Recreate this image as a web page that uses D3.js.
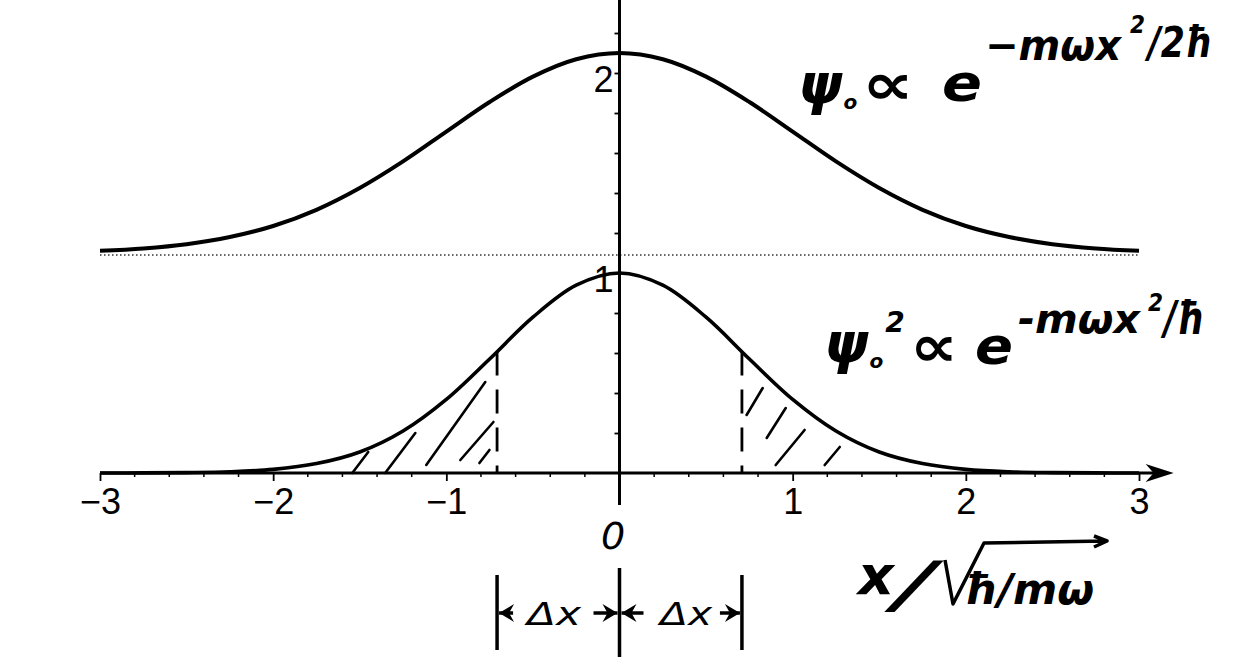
<!DOCTYPE html>
<html>
<head>
<meta charset="utf-8">
<script src="https://cdn.jsdelivr.net/npm/d3@7/dist/d3.min.js"></script>
<style>
  html, body { margin: 0; padding: 0; background: #fff; }
  svg { display: block; }
  .hand { font-family: "DejaVu Sans", sans-serif; font-style: italic; fill: #000; }
  .tick text { font-family: "Liberation Sans", Arial, sans-serif; }
</style>
</head>
<body>
<svg id="chart" width="1248" height="657"></svg>
<script>
// ---- data ----
const xs        = [-3, -2.75, -2.5, -2.25, -2, -1.75, -1.5, -1.25, -1, -0.75, -0.5, -0.25, 0,
                   0.25, 0.5, 0.75, 1, 1.25, 1.5, 1.75, 2, 2.25, 2.5, 2.75, 3];
// upper curve: psi_0 (offset plot), baseline ~1.1, peak ~2.1
const psiVals   = [1.111, 1.123, 1.144, 1.180, 1.235, 1.316, 1.425, 1.558, 1.707, 1.855, 1.982, 2.069, 2.100,
                   2.069, 1.982, 1.855, 1.707, 1.558, 1.425, 1.316, 1.235, 1.180, 1.144, 1.123, 1.111];
// lower curve: psi_0^2, peak 1
const psi2Vals  = [0.0001, 0.0005, 0.002, 0.006, 0.018, 0.047, 0.105, 0.210, 0.368, 0.570, 0.779, 0.939, 1.000,
                   0.939, 0.779, 0.570, 0.368, 0.210, 0.105, 0.047, 0.018, 0.006, 0.002, 0.0005, 0.0001];
const baselineUpper = 1.09;
const xTickValues = [-3, -2, -1, 1, 2, 3];
const xTickLabels = ["\u22123", "\u22122", "\u22121", "1", "2", "3"];
const yTickValues = [0.2, 0.4, 0.6, 0.8, 1.0, 1.2, 1.4, 1.6, 1.8, 2.0, 2.2];
const yTickLabelled = [1, 2];
const deltaX = [-0.707, 0.707];
const deltaXHeight = 0.607;
// hand-drawn hatch strokes [x0, y0, x1, y1] in data units
const hatchLeft  = [[-1.543, 0.0, -1.451, 0.105], [-1.353, 0.0, -1.179, 0.20],
                    [-1.116, 0.04, -0.775, 0.455], [-0.919, 0.065, -0.728, 0.255],
                    [-0.809, 0.05, -0.751, 0.115]];
const hatchRight = [[0.734, 0.29, 0.827, 0.425], [0.850, 0.175, 0.960, 0.325],
                    [0.902, 0.04, 1.069, 0.215], [1.185, 0.04, 1.272, 0.13]];

// ---- scales ----
const svg = d3.select("#chart");
const x = d3.scaleLinear().domain([-3, 3]).range([100, 1139]);
const y = d3.scaleLinear().domain([0, 1]).range([473, 273]);

// dotted baseline of the upper curve
svg.append("line")
  .attr("x1", x(-3)).attr("x2", x(3))
  .attr("y1", y(baselineUpper)).attr("y2", y(baselineUpper))
  .attr("stroke", "#333").attr("stroke-width", 1.5).attr("stroke-dasharray", "1.5,2.5");

// y axis (vertical line through x = 0)
svg.append("line").attr("x1", x(0)).attr("x2", x(0)).attr("y1", 0).attr("y2", 505)
  .attr("stroke", "#000").attr("stroke-width", 3);
const yAxis = d3.axisLeft(y).tickValues(yTickValues).tickSize(5)
  .tickFormat(d => yTickLabelled.some(v => Math.abs(v - d) < 1e-9) ? d3.format("d")(d) : "");
const gy = svg.append("g").attr("transform", `translate(${x(0)},0)`).call(yAxis);
gy.select(".domain").remove();
gy.selectAll(".tick line").attr("stroke", "#000").attr("stroke-width", 1.8);
gy.selectAll(".tick text").style("font-size", "36px").attr("fill", "#000").attr("x", -6).attr("dy", "0.5em");

// x axis
const xAxis = d3.axisBottom(x).tickValues(xTickValues).tickSize(8)
  .tickFormat((d, i) => xTickLabels[i]);
const gx = svg.append("g").attr("transform", `translate(0,${y(0)})`).call(xAxis);
gx.select(".domain").remove();
gx.selectAll(".tick line").attr("stroke", "#000").attr("stroke-width", 1.8);
gx.selectAll(".tick text").style("font-size", "36px").attr("fill", "#000").attr("dy", "0.82em");
// minor ticks
const minor = d3.range(-3, 3.01, 0.2).filter(v => Math.abs(v - Math.round(v)) > 1e-6);
svg.append("g").selectAll("line").data(minor).join("line")
  .attr("x1", d => x(d)).attr("x2", d => x(d))
  .attr("y1", y(0)).attr("y2", y(0) + 4)
  .attr("stroke", "#000").attr("stroke-width", 1.5);
// axis line with arrow head
svg.append("line").attr("x1", x(-3)).attr("x2", x(3.14)).attr("y1", y(0)).attr("y2", y(0))
  .attr("stroke", "#000").attr("stroke-width", 3);
const ax = x(3.2), ay = y(0);
svg.append("path")
  .attr("d", `M${ax},${ay} L${ax - 28},${ay - 9} L${ax - 20},${ay} L${ax - 28},${ay + 9} Z`)
  .attr("fill", "#000");

// curves
const line = d3.line().curve(d3.curveCatmullRom.alpha(0.5));
svg.append("path")
  .attr("d", line(xs.map((v, i) => [x(v), y(psiVals[i])])))
  .attr("fill", "none").attr("stroke", "#000").attr("stroke-width", 4);
svg.append("path")
  .attr("d", line(xs.map((v, i) => [x(v), y(psi2Vals[i])])))
  .attr("fill", "none").attr("stroke", "#000").attr("stroke-width", 3.6);

// dashed lines at +-delta x
svg.append("g").selectAll("line").data(deltaX).join("line")
  .attr("x1", d => x(d)).attr("x2", d => x(d))
  .attr("y1", y(deltaXHeight)).attr("y2", y(0))
  .attr("stroke", "#000").attr("stroke-width", 2.8).attr("stroke-dasharray", "24,14");

// hatching
svg.append("g").selectAll("line").data(hatchLeft.concat(hatchRight)).join("line")
  .attr("x1", d => x(d[0])).attr("y1", d => y(d[1]))
  .attr("x2", d => x(d[2])).attr("y2", d => y(d[3]))
  .attr("stroke", "#000").attr("stroke-width", 2.6).attr("stroke-linecap", "round");

// ---- handwritten-style annotations ----
function txt(s, px, py, size, len, weight) {
  const t = svg.append("text").attr("class", "hand").attr("x", px).attr("y", py)
    .attr("font-size", size).attr("font-weight", weight || "bold").text(s);
  if (len) t.attr("textLength", len).attr("lengthAdjust", "spacingAndGlyphs");
  return t;
}
function psiLabel(px, py, sup) {
  const t = svg.append("text").attr("class", "hand").attr("x", px).attr("y", py)
    .attr("font-size", 56).attr("font-weight", "bold");
  t.append("tspan").text("\u03c8");
  t.append("tspan").attr("font-size", 20).attr("dx", 1).attr("dy", 6).text("o");
  if (sup) t.append("tspan").attr("font-size", 28).attr("dx", 2).attr("dy", -36).text(sup);
  return t;
}
// psi_0 ∝ e^{-mωx²/2ħ}
psiLabel(798, 103, null);
txt("\u221d", 862, 104, 58, 52);
txt("e", 942, 101, 52, 40);
txt("\u2212m\u03c9x", 985, 60, 42, 136);
txt("2", 1130, 33, 24, 15);
txt("/2\u0127", 1148, 57, 42, 64);
// psi_0^2 ∝ e^{-mωx²/ħ}
psiLabel(824, 362, "2");
txt("\u221d", 910, 366, 58, 48);
txt("e", 975, 364, 52, 38);
txt("-m\u03c9x", 1018, 333, 40, 122);
txt("2", 1148, 311, 24, 15);
txt("/\u0127", 1164, 334, 46, 40);
// zero on the x axis
txt("0", 601, 549, 38, null, "normal");
// axis label x / sqrt(ħ/mω)
txt("x", 858, 594, 54, 36, "bold");
txt("/", 893, 606, 62, 40, "normal");
svg.append("path")
  .attr("d", "M945,560 L953,604 L984,543 L1105,541 M1094,536 L1107,541 L1094,547")
  .attr("fill", "none").attr("stroke", "#000").attr("stroke-width", 3.5).attr("stroke-linejoin", "round");
txt("\u0127/m\u03c9", 964, 604, 42, 130);

// delta x markers
const my = 613;
svg.append("g").selectAll("line").data(deltaX).join("line")
  .attr("x1", d => x(d)).attr("x2", d => x(d)).attr("y1", 575).attr("y2", 650)
  .attr("stroke", "#000").attr("stroke-width", 3.5);
svg.append("line").attr("x1", x(0)).attr("x2", x(0)).attr("y1", 568).attr("y2", 657)
  .attr("stroke", "#000").attr("stroke-width", 3.5);
function arrowHead(tipX, dir) {
  svg.append("path")
    .attr("d", `M${tipX},${my} L${tipX - dir * 15},${my - 9} L${tipX - dir * 10},${my} L${tipX - dir * 15},${my + 9} Z`)
    .attr("fill", "#000");
}
const xl = x(deltaX[0]), xr = x(deltaX[1]), x0 = x(0);
[[xl + 2, xl + 16], [x0 - 26, x0 - 2], [x0 + 2, x0 + 24], [xr - 22, xr - 2]].forEach(s =>
  svg.append("line").attr("x1", s[0]).attr("x2", s[1]).attr("y1", my).attr("y2", my)
    .attr("stroke", "#000").attr("stroke-width", 3.5));
arrowHead(xl + 2, -1);
arrowHead(x0 - 2, 1);
arrowHead(x0 + 2, -1);
arrowHead(xr - 2, 1);
txt("\u0394x", 527, 625, 32, 54, "normal");
txt("\u0394x", 660, 625, 32, 52, "normal");
</script>
</body>
</html>
